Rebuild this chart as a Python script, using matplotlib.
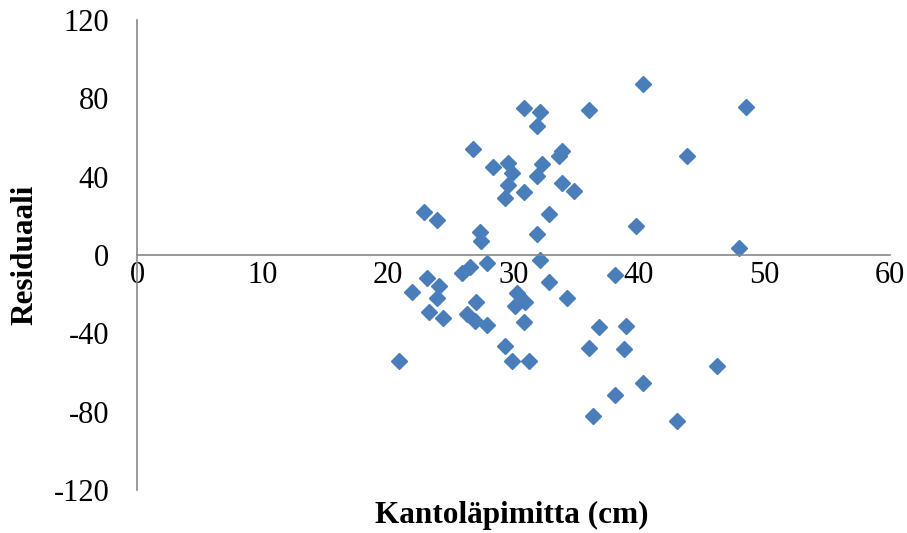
from matplotlib import pyplot as plt

# residuals vs stump diameter
diameter = [40.3, 48.5, 30.8, 32.1, 36.0, 31.9, 26.8, 43.8, 33.9, 33.6,
            29.6, 32.3, 28.4, 29.9, 31.9, 29.6, 33.9, 34.8, 30.8, 29.3,
            22.9, 23.9, 32.8, 39.8, 27.3, 27.4, 31.9, 48.0, 32.1, 27.9,
            26.5, 25.9, 23.1, 38.1, 21.9, 24.1, 23.9, 32.8, 34.3, 27.0,
            30.3, 30.9, 30.1, 23.3, 24.4, 26.3, 26.9, 27.9, 30.8, 36.8,
            39.0, 29.3, 36.0, 38.8, 20.9, 29.9, 31.2, 38.1, 36.3, 40.3,
            46.2, 43.0]
residual = [87.5, 75.6, 75.0, 73.0, 73.8, 66.0, 54.0, 50.8, 53.0, 50.6,
            47.0, 46.5, 45.0, 41.9, 40.3, 35.7, 36.8, 32.7, 32.2, 29.1,
            22.0, 17.8, 20.9, 14.8, 11.7, 7.0, 10.7, 3.6, -2.6, -4.1,
            -6.1, -9.2, -11.7, -10.2, -18.9, -15.8, -22.0, -13.8, -22.0, -24.0,
            -19.4, -24.0, -26.0, -29.0, -32.0, -30.0, -33.7, -35.7, -34.2, -36.8,
            -36.3, -46.5, -47.5, -48.0, -54.0, -54.0, -54.0, -71.5, -82.2, -65.4,
            -56.7, -84.8]

x_ticks = [0, 10, 20, 30, 40, 50, 60]
y_ticks = [-120, -80, -40, 0, 40, 80, 120]

plt.rcParams['font.family'] = ['Liberation Serif', 'DejaVu Serif']
plt.rcParams['axes.unicode_minus'] = False

fig = plt.figure(figsize=(9.07, 5.33), dpi=100)
W, H = 907, 533
ax = fig.add_axes([137 / W, 1 - 490 / H, (890 - 137) / W, (490 - 20) / H])

ax.plot(diameter, residual, linestyle='none', marker='D', markersize=8.5,
        color='#4A7EBB', markeredgecolor='#4A7EBB')

ax.set_xlim(0, 60)
ax.set_ylim(-120, 120)
ax.set_xticks(x_ticks)
ax.set_yticks(y_ticks)

ax.spines['top'].set_visible(False)
ax.spines['right'].set_visible(False)
ax.spines['bottom'].set_position(('data', 0))
ax.spines['left'].set_color('#888888')
ax.spines['bottom'].set_color('#888888')
ax.spines['left'].set_linewidth(1.2)
ax.spines['bottom'].set_linewidth(1.2)

ax.tick_params(axis='both', length=0, labelsize=22)
ax.tick_params(axis='x', pad=4)
ax.tick_params(axis='y', pad=20)

fig.text(512 / W, 1 - 515 / H, 'Kantoläpimitta (cm)', ha='center', va='center',
         fontsize=22.5, fontweight='bold')
fig.text(25 / W, 1 - 255 / H, 'Residuaali', ha='center', va='center',
         rotation=90, fontsize=22.5, fontweight='bold')

fig.savefig('out.png', dpi=100)
